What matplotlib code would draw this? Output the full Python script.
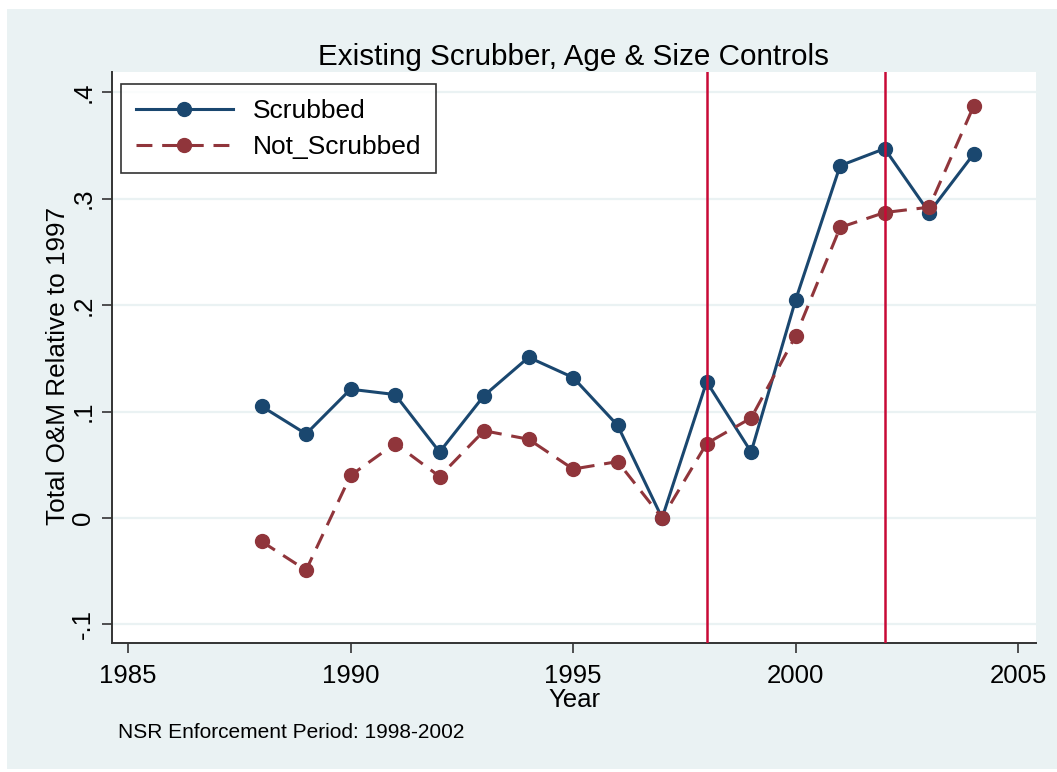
import matplotlib
matplotlib.use("Agg")
import matplotlib.pyplot as plt
from matplotlib.patches import Rectangle
from matplotlib.ticker import FixedLocator, FixedFormatter

plt.rcParams['font.family'] = ['Liberation Sans', 'DejaVu Sans']

years = [1988, 1989, 1990, 1991, 1992, 1993, 1994, 1995, 1996, 1997,
         1998, 1999, 2000, 2001, 2002, 2003, 2004]
scrubbed = [0.105, 0.079, 0.121, 0.116, 0.062, 0.115, 0.151, 0.132, 0.087, 0.0,
            0.128, 0.062, 0.205, 0.331, 0.347, 0.287, 0.342]
not_scrubbed = [-0.022, -0.049, 0.040, 0.070, 0.039, 0.082, 0.074, 0.046, 0.053, 0.0,
                0.070, 0.094, 0.171, 0.273, 0.287, 0.292, 0.387]
enforcement_years = [1998, 2002]
x_ticks = [1985, 1990, 1995, 2000, 2005]
y_ticks = [-0.1, 0.0, 0.1, 0.2, 0.3, 0.4]
y_tick_labels = ['-.1', '0', '.1', '.2', '.3', '.4']

W, H = 1057, 772
fig = plt.figure(figsize=(W / 100, H / 100), dpi=100, facecolor='white')
bg = '#EAF2F3'
fig.patches.append(Rectangle((7 / W, 3 / H), 1 - 7 / W, (769 - 9) / H,
                             transform=fig.transFigure, facecolor=bg,
                             edgecolor='none', zorder=-10))

left, right, top, bottom = 112, 1036, 72, 643
ax = fig.add_axes([left / W, 1 - bottom / H, (right - left) / W, (bottom - top) / H])
ax.set_facecolor('white')

ax.set_xlim(1984.64, 2005.40)
ax.set_ylim(-0.1174, 0.419)

for y in y_ticks:
    ax.axhline(y, color=bg, lw=1.6, zorder=1)

navy = '#1A476F'
maroon = '#90353B'
ax.plot(years, scrubbed, color=navy, lw=2.2, marker='o', ms=10,
        label='Scrubbed', zorder=3)
ax.plot(years, not_scrubbed, color=maroon, lw=2.2, ls=(0, (5.2, 3.2)), marker='o', ms=10,
        label='Not_Scrubbed', zorder=3)
for xv in enforcement_years:
    ax.axvline(xv, color='#C80A36', lw=1.8, zorder=4)

ax.xaxis.set_major_locator(FixedLocator(x_ticks))
ax.xaxis.set_major_formatter(FixedFormatter([str(v) for v in x_ticks]))
ax.yaxis.set_major_locator(FixedLocator(y_ticks))
ax.yaxis.set_major_formatter(FixedFormatter(y_tick_labels))

for s in ['top', 'right']:
    ax.spines[s].set_visible(False)
for s in ['left', 'bottom']:
    ax.spines[s].set_color('#333333')
    ax.spines[s].set_linewidth(1.4)
ax.tick_params(axis='both', direction='out', length=7, width=1.2, color='#333333',
               labelsize=18.5)
ax.tick_params(axis='x', pad=8)
ax.tick_params(axis='y', pad=5)
for lab in ax.get_yticklabels():
    lab.set_rotation(90)
    lab.set_va('center')

ax.set_xlabel('Year', fontsize=18.5, labelpad=0)
ax.set_ylabel('Total O&M Relative to 1997', fontsize=18.8, labelpad=1)
ax.yaxis.label.set_y(0.486)
ax.set_title('Existing Scrubber, Age & Size Controls', fontsize=21.3, pad=5)

leg = ax.legend(loc='upper left', bbox_to_anchor=(0.0099, 0.9783), fontsize=19,
                frameon=True, fancybox=False, borderpad=0.55, handlelength=3.7,
                labelspacing=0.45, handletextpad=0.75, borderaxespad=0)
leg.get_frame().set_edgecolor('black')
leg.get_frame().set_linewidth(1.2)

fig.text(118 / W, 1 - 733 / H, 'NSR Enforcement Period: 1998-2002', fontsize=15,
         va='center', ha='left')

fig.savefig('out.png', dpi=100, facecolor=fig.get_facecolor())
